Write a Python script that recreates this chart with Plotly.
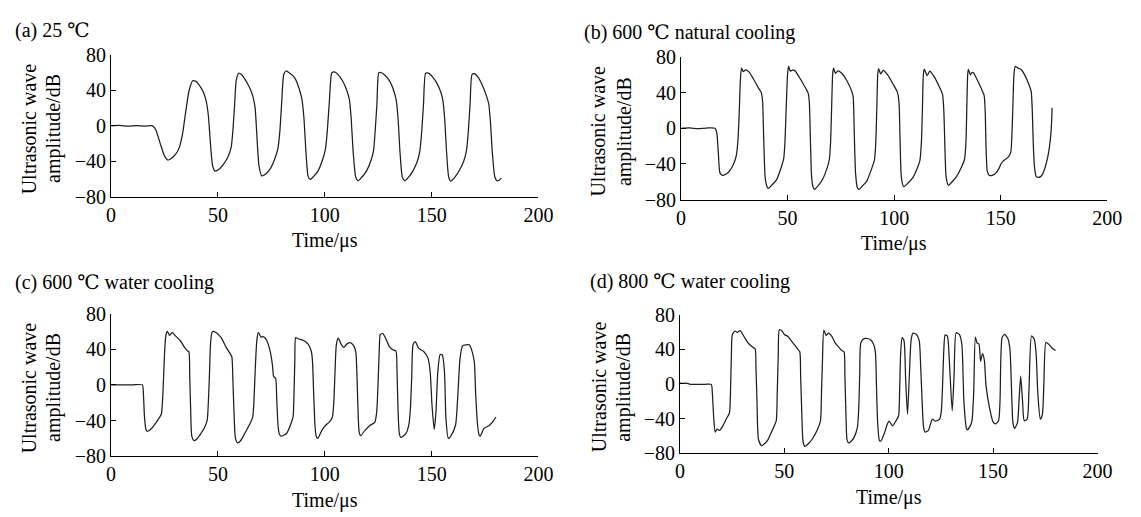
import plotly.graph_objects as go

# ---------------- data ----------------
t_a = [0, 4, 8, 12, 16, 19.5, 21, 23, 25, 26.5, 28, 30.2, 32, 33.5, 34.8, 36.5, 38.2, 39.5, 41, 43.2, 44.5, 45.5,
       46.5, 47.5, 48.6, 50.5, 52.4, 54.5, 56.2, 57, 57.7, 58.6, 59.7, 61, 62.3, 64, 65.4, 66.5, 67.4, 68.2, 69.2,
       70.5, 72.5, 74.6, 76.5, 78.1, 79, 79.8, 80.8, 81.8, 83, 86, 88, 89.3, 90.2, 91.2, 92.2, 93.2, 94.8, 96.8, 99,
       100.3, 101.2, 102.2, 103.3, 104.5, 106, 108.3, 110.3, 111.5, 112.3, 113.3, 114.5, 115.6, 117.3, 119.5, 121.5,
       122.8, 123.6, 124.4, 125.3, 126.5, 128, 130.5, 132.5, 133.5, 134.3, 135.2, 136.3, 137.4, 139, 141.2, 143.3,
       144.5, 145.4, 146.2, 147.2, 148.5, 150.5, 152.5, 154.3, 155.3, 156.1, 157, 158, 159, 160.7, 162.8, 165, 166.3,
       167.2, 168, 168.9, 170, 171.7, 173.5, 175.5, 176.7, 177.5, 178.4, 179.6, 180.6, 181.7, 182.6]
a_a = [0, 0.5, -0.3, 0.4, -0.2, 0, -5, -20, -34, -38.5, -37, -32, -24, -8, 14, 40, 51, 50.5, 47, 38, 28, 12,
       -20, -45, -51, -49, -44, -36, -24, -5, 20, 52, 59.5, 58, 54, 47, 40, 32, 20, -10, -45,
       -56.5, -54, -48, -38, -25, -5, 25, 58, 62, 60.5, 54, 42, 30, 10, -30, -57, -60.5, -57, -51, -38,
       -26, -5, 30, 60, 61, 58.5, 51, 40, 30, 10, -30, -58, -62, -58, -51, -40,
       -28, -5, 25, 60, 60, 57.5, 50, 38, 28, 8, -30, -58, -62, -58.5, -51, -40,
       -28, -5, 25, 59.5, 59.5, 55, 48, 38, 28, 8, -30, -58, -62.5, -58.5, -51, -40, -28,
       -5, 25, 58, 59, 55, 47, 35, 25, 5, -30, -58, -62, -61, -59]

t_b = [0, 4, 8, 12, 16, 16.8, 17.6, 18.3, 19.5, 21, 22.6, 24.9, 26, 26.7, 27.3, 27.9, 28.4, 29.2, 30.3, 31.8, 34.1,
       36.4, 37.7, 38.3, 38.8, 39.5, 40.3, 41, 42.5, 44.9, 47, 48.2, 48.8, 49.4, 50, 50.5, 51.3, 52, 53.3, 55.6, 58.7,
       59.6, 60.2, 60.7, 61.3, 62, 62.6, 64.5, 66.4, 68.5, 69.6, 70.2, 70.7, 71.2, 71.6, 72.5, 73.7, 75.3, 77.9, 80.2,
       80.8, 81.3, 81.9, 82.7, 83.6, 85, 87.1, 89.5, 90.8, 91.4, 91.9, 92.3, 92.7, 93.7, 94.9, 96.8, 99.4, 101.6,
       102.3, 102.8, 103.4, 104.5, 106.3, 108.6, 110.8, 112.1, 112.8, 113.3, 113.7, 114.1, 115.5, 116.7, 118.6, 121.4,
       122.7, 123.3, 123.8, 124.4, 125.5, 127.2, 129.3, 131.5, 133, 133.7, 134.1, 134.5, 134.8, 135.8, 136.5, 137.3,
       138.2, 140.9, 142.2, 142.7, 143.1, 143.7, 144.7, 146.3, 147.8, 149.2, 150.1, 151.2, 152.4, 153.6, 154.7, 155.2,
       155.7, 156.2, 156.8, 158.2, 159.5, 160.5, 162.2, 163.7, 164.3, 164.8, 165.3, 165.9, 166.6, 167.4, 168.5, 169.5,
       170.8, 172, 172.9, 173.6, 173.9, 174.1]
a_b = [0, 0.5, -0.5, 0.3, 0, -5, -30, -50, -52.7, -51.5, -48.5, -39, -30, -15, 15, 55, 67.5, 63.5, 65.5, 63.5, 55,
       45, 40, 30, -10, -55, -65, -67.5, -64, -57.5, -44, -34, -15, 25, 60, 69.5, 64, 65, 65, 57, 44,
       40, 30, -10, -55, -66, -68.5, -64, -57.5, -45, -35, -15, 25, 62, 67.5, 61.5, 64.5, 62, 53, 41,
       35, -5, -50, -66, -68.5, -65, -59.5, -45, -35, -15, 25, 60, 67, 61, 65, 60.5, 50, 40,
       28, -15, -55, -65.5, -62, -56, -45, -36, -15, 25, 60, 66.5, 59, 64, 58.5, 45.5,
       38, 20, -20, -55, -64, -60, -54, -44, -35, -15, 25, 60, 66, 60, 62.5, 62,
       58, 44.5, 37, 20, -20, -48, -53, -52.5, -50, -45, -40, -36.5, -34.5, -32, -27, -10,
       25, 60, 69.5, 67.5, 66, 63, 55, 46, 41, 20, -20, -45, -54, -55, -54.5, -52,
       -44, -33, -20, -4, 10, 23]

t_c = [0, 5, 10, 14.6, 15.1, 15.6, 16.3, 16.9, 18.7, 20.5, 22.5, 23.5, 24, 24.5, 25, 25.6, 26.3, 27.4, 28.6, 30.1,
       32.4, 34.3, 35.5, 36.4, 36.8, 37.2, 37.8, 38.8, 40, 41.6, 43.9, 45, 45.5, 46, 46.5, 47.1, 47.6, 49.2, 51.5,
       53.8, 55.7, 56.5, 57, 57.5, 58.2, 59.2, 60.5, 62.2, 65.3, 66.3, 66.9, 67.5, 68.2, 68.9, 70.2, 71.4, 72.9, 74.5,
       75.5, 76, 76.4, 77, 77.5, 78.1, 78.7, 79.5, 82.1, 84.4, 85.2, 85.6, 86, 86.4, 87.8, 89.8, 92.1, 93.6, 94.2,
       94.8, 95.4, 96, 96.7, 98.6, 100.5, 102, 103.5, 104.2, 104.8, 105.4, 106.3, 107.6, 108.9, 110.4, 111.9, 113.5,
       114.5, 115, 115.5, 116.1, 116.8, 118.8, 120.8, 123.4, 124.3, 124.9, 125.5, 126, 127.2, 128.7, 130.3, 131.8,
       133.3, 133.8, 134.3, 134.9, 135.6, 138, 139.4, 140.1, 140.7, 141.3, 142.3, 144, 146.3, 148.3, 149.3, 150.2,
       151.2, 152, 152.9, 154, 155, 156, 156.7, 157.8, 159.3, 161.2, 162.3, 163.3, 164.5, 166, 167.6, 169, 170,
       170.6, 171.5, 172.3, 172.8, 174.4, 176.9, 179, 180.1]
a_c = [0, 0, 0, 0, -10, -35, -50, -52, -49.5, -44, -37, -33, -20, 5, 35, 55, 60, 55.5, 59, 55,
       49.5, 42.3, 38.7, 37, 10, -25, -58, -62.5, -61, -56, -47, -39, -20, 10, 45, 58, 60, 58.5, 53,
       42.3, 35, 31.5, 5, -30, -60, -65, -63, -56, -42, -36, -15, 20, 50, 59, 53.5, 54, 49.5, 37,
       22, 10, 8.5, 7.5, -15, -45, -55, -57.5, -54.5, -42, -35, -10, 30, 53, 51.5, 50, 46, 38.5, 28,
       -10, -45, -58, -60, -51, -45, -42, -36.5, -20, 15, 45, 52.5, 46, 42, 46, 47.5, 44,
       37, 15, -25, -53, -57, -51, -46, -42, -30, 0, 40, 56.5, 57.5, 51, 42.5, 39.5,
       38, 15, -30, -55, -59, -54.5, -43.7, -25, 10, 45, 48.5, 41, 37.5, 30, 15, -24,
       -50, -31, 15, 34, 33.5, 15, -38, -60, -56, -45, -10, 30, 44, 45, 45, 37, 25,
       -10, -45, -57, -57.5, -49, -45.5, -40, -36]

t_d = [0, 1.5, 3, 5, 8, 12, 15, 15.5, 16.2, 16.9, 17.8, 19, 20.6, 22.5, 23.7, 24.2, 24.6, 25.1, 26.4, 27.5, 28.8,
       30.7, 32.7, 34.7, 36, 36.4, 36.9, 37.6, 39, 40.5, 42.1, 44.5, 46.1, 46.6, 47.1, 47.6, 48.9, 50, 51.6, 53.9,
       56.3, 57.4, 57.8, 58.3, 59, 59.9, 61.5, 63.4, 65.7, 67.3, 67.8, 68.3, 68.9, 70, 71.2, 72.8, 74.4, 76, 77.5,
       78.6, 79, 79.5, 80, 80.7, 82, 83.5, 85, 85.6, 86.1, 86.7, 88.5, 91, 92.7, 93.6, 94.1, 94.7, 95.5, 96.2, 97.9,
       99.2, 100.2, 101.5, 102, 103.5, 104.7, 105.2, 105.7, 106.4, 107.3, 108.1, 109, 109.8, 110.7, 111.6, 113.3,
       114.6, 115.3, 116, 116.7, 117.5, 119, 120.9, 122.3, 124.4, 125.2, 125.8, 126.4, 127, 128.1, 129, 130.4, 131.3,
       132.3, 133.8, 135, 136, 137.2, 137.7, 139.3, 139.9, 140.7, 141.5, 142.3, 143.2, 144, 144.9, 145.8, 146.6,
       148.3, 150, 151.2, 152.6, 153.3, 154.3, 155.5, 157.2, 158.1, 159, 159.5, 160.3, 161.7, 162.4, 163.2, 164.1,
       164.9, 166.3, 167.2, 168.4, 169.7, 170.6, 171.4, 172.6, 173.6, 174.3, 175.3, 176.5, 178.2, 179.9]
a_d = [1, 0.5, 1, -0.5, -0.5, -0.5, -0.5, -10, -40, -55.5, -52, -53.5, -48, -39, -33.5, -10, 30, 57, 61, 59.5, 61.5,
       54.5, 47, 42.5, 40.5, 20, -20, -64, -71, -69, -64.5, -52, -42.5, -10, 35, 62.5, 61, 57, 55, 48,
       40.5, 37, 10, -30, -67, -72, -69, -63.5, -53.5, -42.5, -10, 30, 62, 56, 58.5, 54.5, 47, 42.5, 38.5,
       37, 10, -35, -64, -68, -66, -61, -50, -30, 10, 48, 52.5, 51.5, 46, 37, 0, -45, -65, -66, -57,
       -47, -43, -47.5, -48, -42.5, -37, -10, 35, 53.5, 50, 5, -35, 5, 50, 58.5, 57,
       50, 20, -20, -50, -55.5, -53.5, -40.5, -43, -40.5, -31, 0, 40, 56.5, 55, 28, -31, 10,
       59, 57, 46, -20, -51, -53, -47, -42, -10, 54, 47, 46, 26, 35, 27.5, -2,
       -28, -44, -46, -42.5, -20, 53.5, 57, 51.5, 38.5, -20, -45, -51.5, -44, -20, 9, -20,
       -42.5, -40.5, -5, 55.5, 51.5, 35, -10, -40.5, -35, 0, 48, 46, 41.5, 38.5]

titles = ["(a) 25 \u2103", "(b) 600 \u2103 natural cooling",
          "(c) 600 \u2103 water cooling", "(d) 800 \u2103 water cooling"]
x_ticks = [0, 50, 100, 150, 200]
y_ticks = [-80, -40, 0, 40, 80]
x_title = "Time/\u03bcs"
y_title_lines = ["Ultrasonic wave", "amplitude/dB"]

# ---------------- layout (pixels) ----------------
W, H = 1141, 517
FONT = "'Liberation Serif', 'Times New Roman', 'DejaVu Serif', 'Noto Sans CJK SC', serif"
FS = 20
# plot boxes: left, right, top, bottom
boxes = [(108, 543, 46, 194), (688, 1122, 48, 197), (108, 543, 316, 465), (687, 1112, 317, 462)]
title_pos = [(8, 20), (587, 22), (8, 284), (593, 282)]
offs = [0, 580, 0, 580]
ytitle_x = [24, 50]


def px(x):
    return x / W


def py(y):
    return 1 - y / H


series = [(t_a, a_a), (t_b, a_b), (t_c, a_c), (t_d, a_d)]
fig = go.Figure()
layout = dict(width=W, height=H, margin=dict(l=0, r=0, t=0, b=0), paper_bgcolor="white",
              plot_bgcolor="white", showlegend=False, font=dict(family=FONT, size=FS, color="black"))
ann = []
for i, ((t, a), (l, r, tp, b)) in enumerate(zip(series, boxes)):
    n = "" if i == 0 else str(i + 1)
    fig.add_trace(go.Scatter(x=t, y=a, mode="lines", xaxis="x" + n, yaxis="y" + n,
                             line=dict(color="#1e1e1e", width=1.25, shape="spline", smoothing=0.6),
                             hoverinfo="skip"))
    common = dict(showgrid=False, zeroline=False, showline=True, linecolor="black", linewidth=1,
                  ticks="inside", ticklen=5, tickcolor="black", tickwidth=1,
                  tickfont=dict(family=FONT, size=FS, color="black"), fixedrange=True)
    layout["xaxis" + n] = dict(domain=[px(l), px(r)], range=[0, 200], tickvals=x_ticks,
                               anchor="y" + n, **common)
    layout["yaxis" + n] = dict(domain=[py(b), py(tp)], range=[-80, 80], tickvals=y_ticks,
                               anchor="x" + n, **common)
    tx, ty = title_pos[i]
    ann.append(dict(text=titles[i], x=px(tx), y=py(ty), xref="paper", yref="paper",
                    xanchor="left", yanchor="middle", showarrow=False, font=dict(family=FONT, size=FS)))
    ann.append(dict(text=x_title, x=px((l + r) / 2), y=py(b + 46), xref="paper", yref="paper",
                    xanchor="center", yanchor="middle", showarrow=False, font=dict(family=FONT, size=FS)))
    for k, line in enumerate(y_title_lines):
        ann.append(dict(text=line, x=px(offs[i] + ytitle_x[k]), y=py((tp + b) / 2 + 3),
                        xref="paper", yref="paper", xanchor="center", yanchor="middle",
                        textangle=-90, showarrow=False, font=dict(family=FONT, size=FS)))
layout["annotations"] = ann
fig.update_layout(**layout)
fig.write_html("out.html")
